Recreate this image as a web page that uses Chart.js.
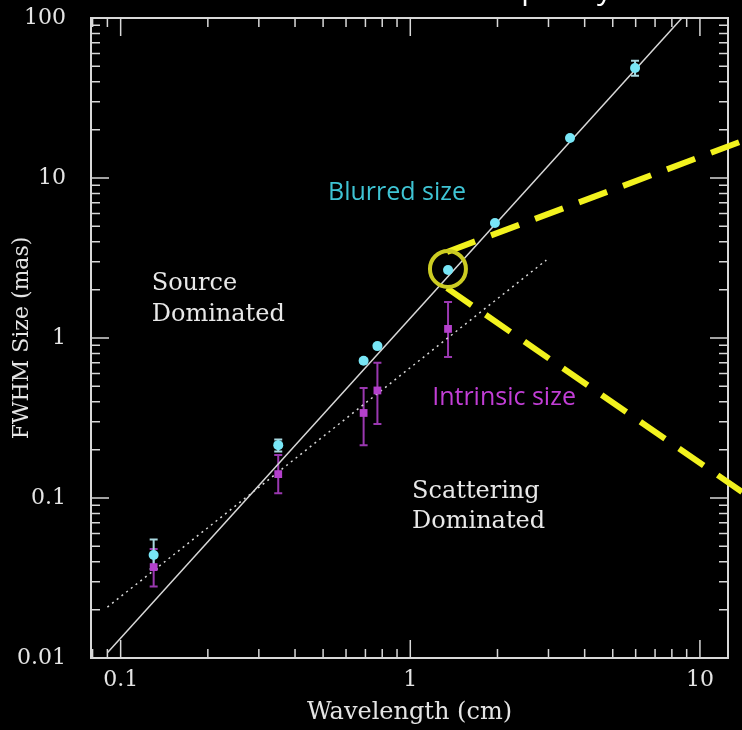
<!DOCTYPE html>
<html>
<head>
<meta charset="utf-8">
<script src="https://cdn.jsdelivr.net/npm/chart.js@4"></script>
<style>
  html, body { margin: 0; padding: 0; background: #000; }
  canvas { display: block; }
</style>
</head>
<body>
<canvas id="myChart" width="742" height="730"></canvas>
<script>
// measured points (wavelength in cm, FWHM in mas)
const wavelengthBlurred = [0.13, 0.35, 0.69, 0.77, 1.35, 1.96, 3.56, 5.97];
const sizeBlurred = [0.044, 0.214, 0.72, 0.89, 2.66, 5.23, 17.8, 48.7];
const blurredLow = [0.036, 0.195, 0.70, 0.87, 2.60, 5.10, 17.4, 43.5];
const blurredHigh = [0.055, 0.232, 0.74, 0.91, 2.72, 5.35, 18.2, 54.0];

const wavelengthIntrinsic = [0.13, 0.35, 0.69, 0.77, 1.35];
const sizeIntrinsic = [0.037, 0.141, 0.34, 0.47, 1.14];
const intrinsicLow = [0.028, 0.107, 0.214, 0.29, 0.76];
const intrinsicHigh = [0.048, 0.186, 0.487, 0.70, 1.68];

// fitted lines
const fitBlurredX = [0.09, 8.67];
const fitBlurredY = [0.0108, 100];
const fitIntrinsicX = [0.09, 2.95];
const fitIntrinsicY = [0.0208, 3.07];

// yellow callout
const calloutX = [1.349];
const calloutY = [2.70];
const calloutUpperX = [1.339, 13.98];
const calloutUpperY = [3.45, 17.0];
const calloutLowerX = [1.339, 13.98];
const calloutLowerY = [2.05, 0.109];

const xTicks = [0.1, 1, 10];
const yTicks = [0.01, 0.1, 1, 10, 100];

const pts = (xs, ys) => xs.map((x, i) => ({ x: x, y: ys[i] }));

const serif = "'DejaVu Serif', serif";
const sans = "'Open Sans', sans-serif";

// frame with inward ticks, PGPLOT style
const framePlugin = {
  id: 'frame',
  beforeDatasetsDraw(chart) {
    const { ctx, chartArea: a, scales } = chart;
    ctx.save();
    ctx.strokeStyle = '#d8d8d8';
    ctx.lineWidth = 2;
    ctx.strokeRect(a.left, a.top, a.right - a.left, a.bottom - a.top);
    ctx.lineWidth = 1.5;
    const decade = (scale, fn) => {
      const lo = Math.floor(Math.log10(scale.min)), hi = Math.ceil(Math.log10(scale.max));
      for (let e = lo; e <= hi; e++) {
        for (let m = 1; m < 10; m++) {
          const v = m * Math.pow(10, e);
          if (v < scale.min * 0.999 || v > scale.max * 1.001) continue;
          fn(scale.getPixelForValue(v), m === 1 ? 18 : 9);
        }
      }
    };
    ctx.beginPath();
    decade(scales.x, (px, len) => {
      ctx.moveTo(px, a.bottom); ctx.lineTo(px, a.bottom - len);
      ctx.moveTo(px, a.top); ctx.lineTo(px, a.top + len);
    });
    decade(scales.y, (py, len) => {
      ctx.moveTo(a.left, py); ctx.lineTo(a.left + len, py);
      ctx.moveTo(a.right, py); ctx.lineTo(a.right - len, py);
    });
    ctx.stroke();

    // error bars
    const bars = (xs, lo, hi, color) => {
      ctx.strokeStyle = color;
      ctx.lineWidth = 2;
      ctx.beginPath();
      xs.forEach((x, i) => {
        const px = scales.x.getPixelForValue(x);
        const p1 = scales.y.getPixelForValue(lo[i]);
        const p2 = scales.y.getPixelForValue(hi[i]);
        ctx.moveTo(px, p1); ctx.lineTo(px, p2);
        ctx.moveTo(px - 4, p1); ctx.lineTo(px + 4, p1);
        ctx.moveTo(px - 4, p2); ctx.lineTo(px + 4, p2);
      });
      ctx.stroke();
    };
    bars(wavelengthIntrinsic, intrinsicLow, intrinsicHigh, '#9a38b0');
    bars(wavelengthBlurred, blurredLow, blurredHigh, '#a8d8e0');
    ctx.restore();
  }
};

const notes = [
  { text: 'Source', x: 0.128, y: 2.0, font: '24px ' + serif, color: '#e8e8e8' },
  { text: 'Dominated', x: 0.128, y: 1.28, font: '24px ' + serif, color: '#e8e8e8' },
  { text: 'Scattering', x: 1.014, y: 0.1, font: '24px ' + serif, color: '#e8e8e8' },
  { text: 'Dominated', x: 1.014, y: 0.065, font: '24px ' + serif, color: '#e8e8e8' },
  { text: 'Blurred size', x: 0.52, y: 7.29, font: '25px ' + sans, color: '#3fc4d4' },
  { text: 'Intrinsic size', x: 1.19, y: 0.381, font: '25px ' + sans, color: '#c23ed6' }
];

const notesPlugin = {
  id: 'notes',
  afterDatasetsDraw(chart) {
    const { ctx, scales } = chart;
    ctx.save();
    ctx.textAlign = 'left';
    ctx.textBaseline = 'alphabetic';
    notes.forEach(n => {
      ctx.font = n.font;
      ctx.fillStyle = n.color;
      ctx.fillText(n.text, scales.x.getPixelForValue(n.x), scales.y.getPixelForValue(n.y));
    });
    // slide title, cut off at the top of the picture
    ctx.font = '30px ' + sans;
    ctx.fillStyle = '#ffffff';
    ctx.textAlign = 'right';
    ctx.fillText('Intrinsic size vs. frequency', 612, -1);
    ctx.restore();
  }
};

const ctx = document.getElementById('myChart');
new Chart(ctx, {
  type: 'scatter',
  data: {
    datasets: [
      {
        label: 'callout',
        data: pts(calloutX, calloutY),
        pointRadius: 18,
        pointBorderWidth: 4,
        pointBorderColor: '#cccc22',
        pointBackgroundColor: 'rgba(0,0,0,0)',
        clip: false
      },
      {
        label: 'callout upper',
        data: pts(calloutUpperX, calloutUpperY),
        showLine: true,
        pointRadius: 0,
        borderColor: '#f2f21e',
        borderWidth: 6,
        borderDash: [30, 17],
        clip: false
      },
      {
        label: 'callout lower',
        data: pts(calloutLowerX, calloutLowerY),
        showLine: true,
        pointRadius: 0,
        borderColor: '#f2f21e',
        borderWidth: 6,
        borderDash: [30, 17],
        clip: false
      },
      {
        label: 'Blurred size',
        data: pts(wavelengthBlurred, sizeBlurred),
        pointRadius: 5,
        pointBorderWidth: 0,
        pointBackgroundColor: '#78e6f6'
      },
      {
        label: 'Intrinsic size',
        data: pts(wavelengthIntrinsic, sizeIntrinsic),
        pointStyle: 'rect',
        pointRadius: 5.5,
        pointBorderWidth: 0,
        pointBackgroundColor: '#b440cc'
      },
      {
        label: 'fit blurred',
        data: pts(fitBlurredX, fitBlurredY),
        showLine: true,
        pointRadius: 0,
        borderColor: '#d8d8d8',
        borderWidth: 1.5
      },
      {
        label: 'fit intrinsic',
        data: pts(fitIntrinsicX, fitIntrinsicY),
        showLine: true,
        pointRadius: 0,
        borderColor: '#d8d8d8',
        borderWidth: 1.5,
        borderDash: [2, 4]
      }
    ]
  },
  options: {
    responsive: false,
    animation: false,
    devicePixelRatio: 1,
    layout: { autoPadding: false, padding: { top: 18, right: 14, left: 0, bottom: 0 } },
    plugins: {
      legend: { display: false },
      tooltip: { enabled: false }
    },
    scales: {
      x: {
        type: 'logarithmic',
        min: 0.079,
        max: 12.5,
        grid: { display: false },
        border: { display: false },
        afterBuildTicks: s => { s.ticks = xTicks.map(v => ({ value: v })); },
        afterFit: s => {
          s.height = 72;
          s.paddingLeft = 0; s.paddingRight = 0; s.paddingTop = 0; s.paddingBottom = 0;
        },
        ticks: {
          color: '#e4e4e4',
          font: { family: serif, size: 22 },
          padding: 1,
          maxRotation: 0,
          autoSkip: false,
          callback: v => String(v)
        },
        title: {
          display: true,
          text: 'Wavelength (cm)',
          color: '#e4e4e4',
          font: { family: serif, size: 24 },
          padding: { top: 0, bottom: 3 }
        }
      },
      y: {
        type: 'logarithmic',
        min: 0.01,
        max: 100,
        grid: { display: false },
        border: { display: false },
        afterBuildTicks: s => { s.ticks = yTicks.map(v => ({ value: v })); },
        afterFit: s => {
          s.width = 91;
          s.paddingLeft = 0; s.paddingRight = 0; s.paddingTop = 0; s.paddingBottom = 0;
        },
        ticks: {
          color: '#e4e4e4',
          font: { family: serif, size: 22 },
          padding: 17,
          autoSkip: false,
          callback: v => String(v)
        },
        title: {
          display: true,
          text: 'FWHM Size (mas)',
          color: '#e4e4e4',
          font: { family: serif, size: 22 },
          padding: { top: 9, bottom: 0 }
        }
      }
    }
  },
  plugins: [framePlugin, notesPlugin]
});
</script>
</body>
</html>
